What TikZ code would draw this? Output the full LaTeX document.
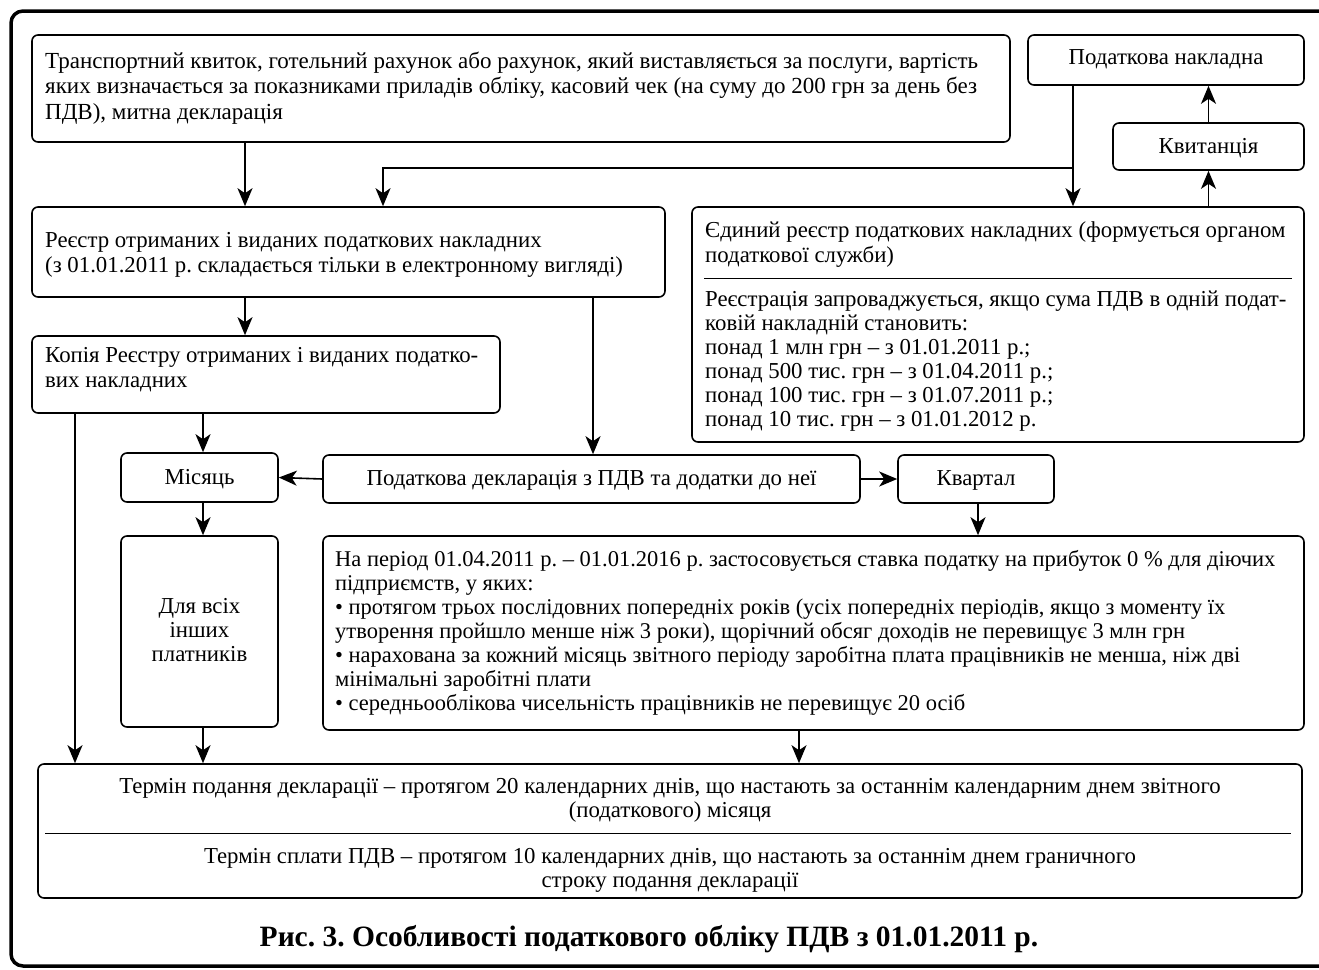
\documentclass[tikz,border=0pt]{standalone}
\usepackage{fontspec}
\setmainfont{Liberation Serif}
\usetikzlibrary{arrows.meta}
\newcommand{\fsT}{\fontsize{23}{25.5}\selectfont\frenchspacing}
\newcommand{\fsA}{\fontsize{22.8}{25.5}\selectfont\frenchspacing}
\newcommand{\fsB}{\fontsize{22.8}{24}\selectfont\frenchspacing}
\newcommand{\fsC}{\fontsize{22.5}{24}\selectfont\frenchspacing}
\begin{document}
\begin{tikzpicture}[x=1pt,y=-1pt,
  box/.style={draw, line width=1.6pt, rounded corners=6pt, inner sep=0pt},
  txt/.style={inner sep=0pt, align=left, anchor=base west},
  ctxt/.style={inner sep=0pt, align=center, anchor=base},
  arr/.style={-{Stealth[length=18pt,width=15pt,inset=5pt]}, line width=1.6pt},
  rule/.style={line width=1pt},
  frame/.style={line width=3.5pt, rounded corners=12pt}]
\useasboundingbox (0,0) rectangle (1319,969);
% outer frame
\draw[frame] (1340,11) -- (11,11) -- (11,966) -- (1340,966);
% boxes
\node[box, minimum width=978pt, minimum height=107pt] (top) at (521,88.5) {};
\node[box, minimum width=276pt, minimum height=50pt] (pn) at (1166,60) {};
\node[box, minimum width=191pt, minimum height=47pt] (kv) at (1208.5,146.5) {};
\node[box, minimum width=633pt, minimum height=90pt] (reg) at (348.5,252) {};
\node[box, minimum width=612pt, minimum height=235pt] (ed) at (998,324.5) {};
\node[box, minimum width=468pt, minimum height=77pt] (kop) at (266,374.5) {};
\node[box, minimum width=157pt, minimum height=49pt] (mis) at (199.5,477.5) {};
\node[box, minimum width=537pt, minimum height=48pt] (decl) at (591.5,479) {};
\node[box, minimum width=156pt, minimum height=48pt] (kvart) at (976,479) {};
\node[box, minimum width=157pt, minimum height=191pt] (all) at (199.5,631.5) {};
\node[box, minimum width=981pt, minimum height=194pt] (big) at (813.5,633) {};
\node[box, minimum width=1264pt, minimum height=134pt] (bot) at (670,831) {};
% texts (base anchor = baseline of the last line)
\node[txt, font=\fsT] (topT) at (45,119) {Транспортний квиток, готельний рахунок або рахунок, який виставляється за послуги, вартість\\
яких визначається за показниками приладів обліку, касовий чек (на суму до 200 грн за день без\\
ПДВ), митна декларація};
\node[ctxt, font=\fsA] (pnT) at (1166,64) {Податкова накладна};
\node[ctxt, font=\fsA] (kvT) at (1208.5,153) {Квитанція};
\node[txt, font=\fsA] (regT) at (45,272.5) {Реєстр отриманих і виданих податкових накладних\\
(з 01.01.2011 р. складається тільки в електронному вигляді)};
\node[txt, font=\fsA] (edT1) at (705,262.5) {Єдиний реєстр податкових накладних (формується органом\\
податкової служби)};
\draw[rule] ([xshift=13pt]ed.west |- 0,278) coordinate (edr1) -- ([xshift=-13pt]ed.east |- 0,278) coordinate (edr2);
\node[txt, font=\fsB] (edT2) at (705,426) {Реєстрація запроваджується, якщо сума ПДВ в одній подат-\\
ковій накладній становить:\\
понад 1 млн грн – з 01.01.2011 р.;\\
понад 500 тис. грн – з 01.04.2011 р.;\\
понад 100 тис. грн – з 01.07.2011 р.;\\
понад 10 тис. грн – з 01.01.2012 р.};
\node[txt, font=\fsA] (kopT) at (45,387.5) {Копія Реєстру отриманих і виданих податко-\\
вих накладних};
\node[ctxt, font=\fsA] (misT) at (199.5,484) {Місяць};
\node[ctxt, font=\fsA] (declT) at (591.5,485) {Податкова декларація з ПДВ та додатки до неї};
\node[ctxt, font=\fsA] (kvartT) at (976,485) {Квартал};
\node[ctxt, font=\fsB] (allT) at (199.5,661) {Для всіх\\інших\\платників};
\node[txt, font=\fsC] (bigT) at (335,710) {На період 01.04.2011 р. – 01.01.2016 р. застосовується ставка податку на прибуток 0 \% для діючих\\
підприємств, у яких:\\
• протягом трьох послідовних попередніх років (усіх попередніх періодів, якщо з моменту їх\\
утворення пройшло менше ніж 3 роки), щорічний обсяг доходів не перевищує 3 млн грн\\
• нарахована за кожний місяць звітного періоду заробітна плата працівників не менша, ніж дві\\
мінімальні заробітні плати\\
• середньооблікова чисельність працівників не перевищує 20 осіб};
\node[ctxt, font=\fsB] (botT1) at (670,817) {Термін подання декларації – протягом 20 календарних днів, що настають за останнім календарним днем звітного\\
(податкового) місяця};
\draw[rule] ([xshift=8pt]bot.west |- 0,833) coordinate (botr1) -- ([xshift=-12pt]bot.east |- 0,833) coordinate (botr2);
\node[ctxt, font=\fsB] (botT2) at (670,887) {Термін сплати ПДВ – протягом 10 календарних днів, що настають за останнім днем граничного\\
строку подання декларації};
\node[ctxt, font=\fontsize{29.5}{33}\selectfont\bfseries\frenchspacing] (cap) at (649,946) {Рис. 3. Особливості податкового обліку ПДВ з 01.01.2011 р.};
% columns
\coordinate (c1) at (245,0);
\coordinate (c2) at (1073,0);
\coordinate (c3) at (383,0);
\coordinate (c4) at (1208.5,0);
\coordinate (c5) at (593,0);
\coordinate (c6) at (203,0);
\coordinate (c7) at (75,0);
\coordinate (c8) at (978,0);
\coordinate (c9) at (799,0);
\coordinate (j) at (1073,168);
% connectors
\draw[arr] (top.south -| c1) -- (reg.north -| c1);
\draw[arr] (pn.south -| c2) -- (ed.north -| c2);
\draw[arr] (j) -- (j -| c3) -- (reg.north -| c3);
\draw[arr] (ed.north -| c4) -- (kv.south -| c4);
\draw[arr] (kv.north -| c4) -- (pn.south -| c4);
\draw[arr] (reg.south -| c1) -- (kop.north -| c1);
\draw[arr] (reg.south -| c5) -- (decl.north -| c5);
\draw[arr] (kop.south -| c6) -- (mis.north -| c6);
\draw[arr] (kop.south -| c7) -- (bot.north -| c7);
\draw[arr] (decl.west) -- (mis.east);
\draw[arr] (decl.east) -- (kvart.west);
\draw[arr] (kvart.south -| c8) -- (big.north -| c8);
\draw[arr] (mis.south -| c6) -- (all.north -| c6);
\draw[arr] (all.south -| c6) -- (bot.north -| c6);
\draw[arr] (big.south -| c9) -- (bot.north -| c9);
\end{tikzpicture}
\end{document}
